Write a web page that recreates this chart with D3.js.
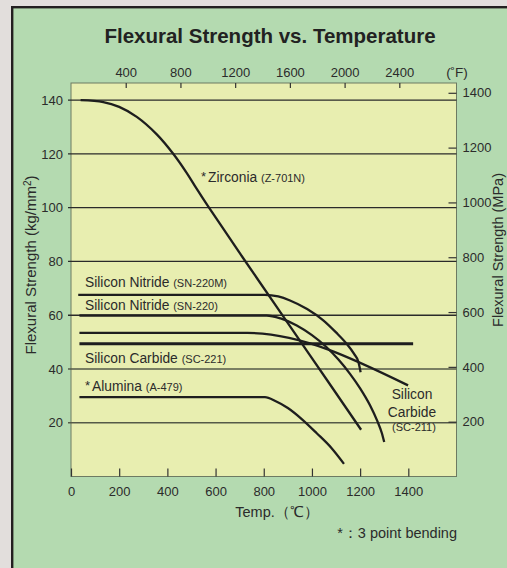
<!DOCTYPE html>
<html><head><meta charset="utf-8">
<script src="https://cdn.jsdelivr.net/npm/d3@7"></script>
<style>
html,body{margin:0;padding:0;background:#e2dedc;}
svg{display:block;font-family:"Liberation Sans",Arial,Helvetica,sans-serif;}
</style></head>
<body><svg id="chart" width="507" height="568"></svg>
<script>
// ---- data ----
const xTicksC = [0, 200, 400, 600, 800, 1000, 1200, 1400];
const xTicksF = [400, 800, 1200, 1600, 2000, 2400];
const yTicksKg = [20, 40, 60, 80, 100, 120, 140];
const yTicksMPa = [200, 400, 600, 800, 1000, 1200, 1400];

const zirconia = [[40,140],[134,139.3],[200,137.5],[273,133.8],[356,127.3],[425,120],[480,113],[520,107.3],[570,100.4],[715,81.2],[992,45.1],[1204,17.4]];
const sn220m = [[30,67.6],[805,67.6],[860,67],[909,65.5],[980,62.3],[1047,58.1],[1100,53.6],[1144,49.4],[1175,45.6],[1193,42.6],[1202,38.8]];
const sn220 = [[35,59.9],[812,59.9],[870,58.8],[937,56.2],[1000,52.6],[1061,48.1],[1110,43.5],[1158,38.2],[1200,32.8],[1241,26.5],[1272,20.5],[1290,16.2],[1300,12.8]];
const sc211 = [[35,53.4],[732,53.4],[1399,33.9]];
const sc221 = [[35,49.4],[1420,49.4]];
const alumina = [[35,29.5],[805,29.5],[850,28],[900,25.5],[960,21.2],[1020,16.1],[1080,10.7],[1133,4.7]];

const seriesList = [
  {name:"zirconia", pts:zirconia, w:2.3, smooth:true},
  {name:"sn220m", pts:sn220m, w:2.3},
  {name:"sn220", pts:sn220, w:2.3},
  {name:"sc211", pts:sc211, w:2.3},
  {name:"sc221", pts:sc221, w:3},
  {name:"alumina", pts:alumina, w:2.3}
];

// ---- layout ----
const svg = d3.select("#chart");
const L = 71, R = 456.5, T = 83, B = 476.5;
const FF = "Liberation Sans,Arial,sans-serif";

// frame
svg.append("rect").attr("x",0).attr("y",0).attr("width",507).attr("height",568).attr("fill","#e2dedc");
svg.append("rect").attr("x",12.2).attr("y",7.2).attr("width",520).attr("height",580)
  .attr("fill","#b4dab0").attr("stroke","#231f20").attr("stroke-width",2.4);

const x = d3.scaleLinear().domain([0,1600]).range([L,R]);
const xF = d3.scaleLinear().domain([0,2818]).range([L,R]);
const y = d3.scaleLinear().domain([0,140]).range([B,100.2]);
const yM = d3.scaleLinear().domain([0,140*9.807]).range([B,100.2]);
const fmt = d3.format("d");

// plot area
svg.append("rect").attr("x",L).attr("y",T).attr("width",R-L).attr("height",B-T)
  .attr("fill","#e8eeb0").attr("stroke","#6d7a62").attr("stroke-width",1);

// grid lines
svg.append("g").selectAll("line").data(yTicksKg).join("line")
  .attr("x1",L-3).attr("x2",R).attr("y1",d=>y(d)).attr("y2",d=>y(d))
  .attr("stroke",d=>(d===40||d===20)?"#555a48":"#2a2a2a").attr("stroke-width",1.3);

const txt = "#2b2b2b";
function styleText(g){
  g.selectAll("text").attr("font-size",13).attr("fill",txt).attr("font-family",FF);
}
// left axis labels
const gl = svg.append("g").attr("transform","translate("+L+",0)")
  .call(d3.axisLeft(y).tickValues(yTicksKg).tickFormat(fmt).tickSize(0).tickPadding(8));
gl.select(".domain").remove();
styleText(gl);

// bottom axis
const gb = svg.append("g").attr("transform","translate(0,"+B+")")
  .call(d3.axisBottom(x).tickValues(xTicksC).tickFormat(fmt).tickSize(-8).tickPadding(10));
gb.select(".domain").remove();
gb.selectAll("line").attr("stroke","#333").attr("stroke-width",1.2);
styleText(gb);

// top axis (F)
const gt = svg.append("g").attr("transform","translate(0,"+T+")")
  .call(d3.axisTop(xF).tickValues(xTicksF).tickFormat(fmt).tickSize(-5).tickPadding(6));
gt.select(".domain").remove();
gt.selectAll("line").attr("stroke","#333").attr("stroke-width",1.2);
styleText(gt);
svg.append("text").attr("x",457).attr("y",77).attr("text-anchor","middle").attr("font-size",13.5).attr("fill",txt).text("(˚F)");

// right axis (MPa)
const gr = svg.append("g").attr("transform","translate("+R+",0)")
  .call(d3.axisRight(yM).tickValues(yTicksMPa).tickFormat(fmt).tickSize(-8).tickPadding(6));
gr.select(".domain").remove();
gr.selectAll("line").attr("stroke","#333").attr("stroke-width",1.2);
styleText(gr);

// curves
const lineMono = d3.line().x(d=>x(d[0])).y(d=>y(d[1])).curve(d3.curveMonotoneX);
const lineSmooth = d3.line().x(d=>x(d[0])).y(d=>y(d[1])).curve(d3.curveCatmullRom.alpha(0.5));
svg.append("g").selectAll("path").data(seriesList).join("path")
  .attr("d",d=>(d.smooth?lineSmooth:lineMono)(d.pts)).attr("fill","none").attr("stroke","#1e1e1e")
  .attr("stroke-width",d=>d.w).attr("stroke-linecap","butt");

// title
svg.append("text").attr("x",270).attr("y",43).attr("text-anchor","middle")
  .attr("font-size",20.5).attr("font-weight","bold").attr("fill","#222").text("Flexural Strength vs. Temperature");

// axis titles
svg.append("text").attr("transform","translate(35.5,265) rotate(-90)").attr("text-anchor","middle")
  .attr("font-size",15).attr("fill",txt)
  .html('Flexural Strength (kg/mm<tspan font-size="10" dy="-5">2</tspan><tspan dy="5">)</tspan>');
svg.append("text").attr("transform","translate(503,250) rotate(-90)").attr("text-anchor","middle")
  .attr("font-size",14.5).attr("fill",txt).text("Flexural Strength (MPa)");
svg.append("text").attr("x",277).attr("y",516.5).attr("text-anchor","middle")
  .attr("font-size",14.5).attr("fill",txt).text("Temp.（℃）");
svg.append("text").attr("x",457).attr("y",538).attr("text-anchor","end")
  .attr("font-size",14.5).attr("fill",txt).text("*：3 point bending");

// series labels
function label(xp, yp, main, sub, star){
  const t = svg.append("text").attr("x",xp).attr("y",yp).attr("font-size",13.8).attr("fill",txt);
  if(star) t.append("tspan").attr("font-size",13).attr("dy",-1).text("*");
  t.append("tspan").attr("dy",star?1:0).attr("dx",star?2:0).text(main+" ");
  t.append("tspan").attr("font-size",11).text(sub);
}
label(85,286.5,"Silicon Nitride","(SN-220M)",false);
label(85,310,"Silicon Nitride","(SN-220)",false);
label(85,362.5,"Silicon Carbide","(SC-221)",false);
label(85,390.5,"Alumina","(A-479)",true);
label(201,181.5,"Zirconia","(Z-701N)",true);
svg.append("text").attr("x",412).attr("y",399).attr("text-anchor","middle").attr("font-size",13.8).attr("fill",txt).text("Silicon");
svg.append("text").attr("x",412).attr("y",417).attr("text-anchor","middle").attr("font-size",13.8).attr("fill",txt).text("Carbide");
svg.append("text").attr("x",414).attr("y",431).attr("text-anchor","middle").attr("font-size",11).attr("fill",txt).text("(SC-211)");
</script></body></html>
